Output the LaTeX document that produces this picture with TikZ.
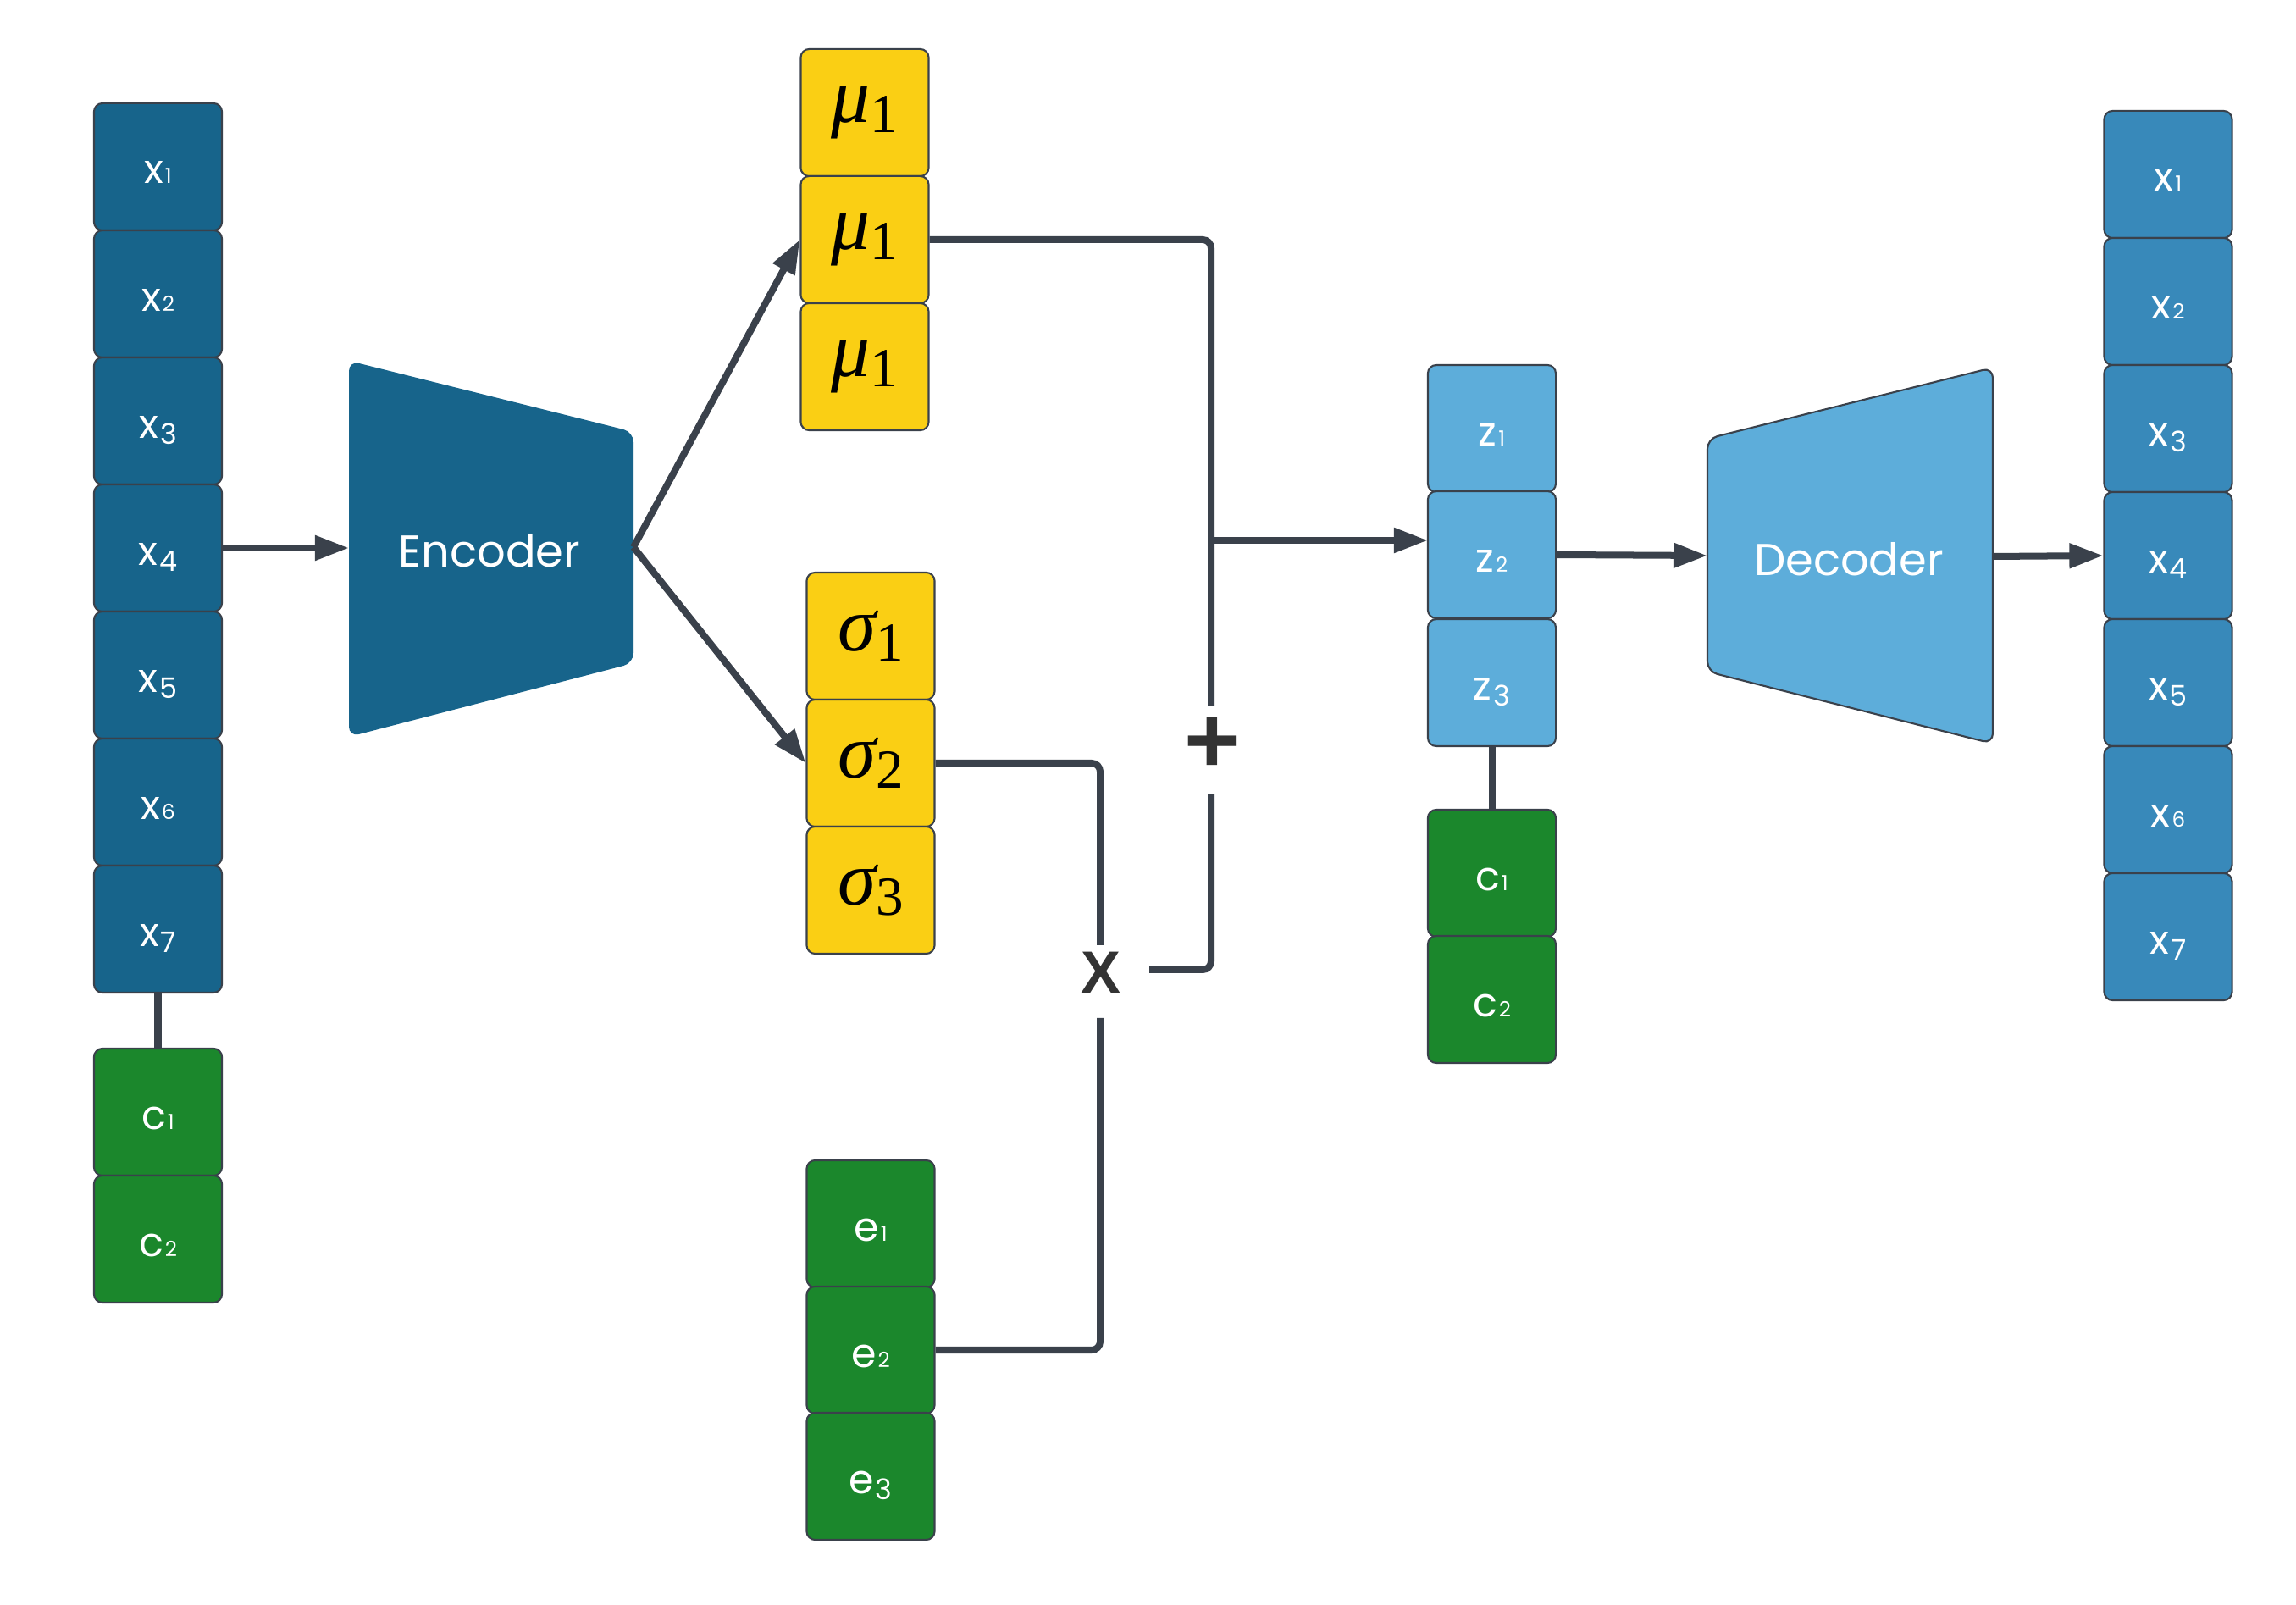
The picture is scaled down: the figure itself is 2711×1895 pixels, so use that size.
\documentclass[tikz,border=0pt]{standalone}
\usepackage{fontspec}
\setmainfont{Poppins}
\newfontfamily\tms{Liberation Serif}
\newfontfamily\arl{Liberation Sans}
\usetikzlibrary{arrows.meta}

\definecolor{xdark}{HTML}{17648B}
\definecolor{xout}{HTML}{3889BA}
\definecolor{zlight}{HTML}{5DADDA}
\definecolor{gold}{HTML}{FACF14}
\definecolor{leaf}{HTML}{1B872C}
\definecolor{wire}{HTML}{3A414B}
\definecolor{opcol}{HTML}{333333}

% subscript digits: small ones sit on the baseline, others drop a little
\newcommand\dsm[1]{\kern0.02cm{\fontsize{7}{7}\selectfont#1}}
\newcommand\dlo[1]{\kern0.02cm\raisebox{-0.07cm}{\fontsize{9.5}{9.5}\selectfont#1}}
% greek symbol with an upright index
\newcommand\gk[2]{{\tms\fontsize{26}{26}\selectfont\itshape #1\raisebox{-0.12cm}{\upshape\fontsize{18.5}{18.5}\selectfont #2}}}

\tikzset{
  cell/.style={draw=wire, line width=0.6pt, rounded corners=0.1cm,
    minimum width=1.51cm, minimum height=1.5cm, inner sep=0pt},
  lbl/.style={cell, text=white, font=\fontsize{13.5}{13.5}\selectfont,
    text height=0.4cm, text depth=0pt},
  xin/.style={lbl, fill=xdark},
  xrec/.style={lbl, fill=xout},
  zcell/.style={lbl, fill=zlight},
  ccell/.style={lbl, fill=leaf},
  gcell/.style={cell, fill=gold, text=black},
  wireline/.style={draw=wire, line width=0.08cm, rounded corners=0.1cm},
  arr/.style={wireline, -{Triangle[length=0.4cm,width=0.28cm]}},
  optext/.style={text=opcol, font=\arl\bfseries\fontsize{20}{20}\selectfont, inner sep=0pt},
  blocktext/.style={text=white, font=\fontsize{15}{15}\selectfont, inner sep=0pt}
}

\begin{document}
\begin{tikzpicture}[x=0.01cm,y=-0.01cm]
\useasboundingbox (0,0) rectangle (2711,1895);

% input vector and condition
\node[xin] (x1) at (186.5,197) {x\dsm{1}};
\node[xin] (x2) at (186.5,347) {x\dsm{2}};
\node[xin] (x3) at (186.5,497) {x\dlo{3}};
\node[xin] (x4) at (186.5,647) {x\dlo{4}};
\node[xin] (x5) at (186.5,797) {x\dlo{5}};
\node[xin] (x6) at (186.5,947) {x\dsm{6}};
\node[xin] (x7) at (186.5,1097) {x\dlo{7}};
\node[ccell] (c1) at (186.5,1313) {c\dsm{1}};
\node[ccell] (c2) at (186.5,1463) {c\dsm{2}};

% encoder block
\fill[xdark, rounded corners=0.12cm] (412,426) -- (748,510) -- (748,783) -- (412,870) -- cycle;
\node[blocktext] (enc) at (578,650) {Encoder};
\coordinate (encL) at (412,647);
\coordinate (encR) at (748,646);

% means and standard deviations
\node[gcell] (mu1) at (1021,133) {\gk{μ}{1}};
\node[gcell] (mu2) at (1021,283) {\gk{μ}{1}};
\node[gcell] (mu3) at (1021,433) {\gk{μ}{1}};
\node[gcell] (sg1) at (1028,751) {\gk{σ}{1}};
\node[gcell] (sg2) at (1028,901) {\gk{σ}{2}};
\node[gcell] (sg3) at (1028,1051) {\gk{σ}{3}};

% noise
\node[ccell] (e1) at (1028,1445) {e\dsm{1}};
\node[ccell] (e2) at (1028,1594) {e\dsm{2}};
\node[ccell] (e3) at (1028,1743) {e\dlo{3}};

% operators
\node[optext] (times) at (1300,1148) {X};
\node[optext, font=\arl\bfseries\fontsize{32}{32}\selectfont] (plus) at (1431,880) {+};
\coordinate (timesTop) at (1299,1116);
\coordinate (timesBot) at (1299,1202);
\coordinate (timesOut) at (1357,1145);
\coordinate (plusTop) at (1430,833);
\coordinate (plusBot) at (1430,938);
\coordinate (junc) at (1430,638);
\coordinate (zin) at (1686,638);

% latent vector and condition
\node[zcell] (z1) at (1761.5,506) {z\dsm{1}};
\node[zcell] (z2) at (1761.5,655) {z\dsm{2}};
\node[zcell] (z3) at (1761.5,806) {z\dlo{3}};
\node[ccell] (zc1) at (1761.5,1031) {c\dsm{1}};
\node[ccell] (zc2) at (1761.5,1180) {c\dsm{2}};

% decoder block
\filldraw[fill=zlight, draw=wire, line width=0.6pt, rounded corners=0.12cm]
  (2016,518) -- (2353,434) -- (2353,878) -- (2016,793) -- cycle;
\node[blocktext] (dec) at (2183,660) {Decoder};
\coordinate (decL) at (2016,656);
\coordinate (decR) at (2353,657);

% reconstruction
\node[xrec] (o1) at (2560,206) {x\dsm{1}};
\node[xrec] (o2) at (2560,356) {x\dsm{2}};
\node[xrec] (o3) at (2560,506) {x\dlo{3}};
\node[xrec] (o4) at (2560,656) {x\dlo{4}};
\node[xrec] (o5) at (2560,806) {x\dlo{5}};
\node[xrec] (o6) at (2560,956) {x\dsm{6}};
\node[xrec] (o7) at (2560,1106) {x\dlo{7}};

% connectors
\draw[wireline] (x7.south) -- (c1.north);
\draw[wireline] (z3.south) -- (zc1.north);
\draw[arr] (x4.east) -- (encL);
\draw[arr] (encR) -- (mu2.west);
\draw[arr] (encR) -- (sg2.west);
\draw[wireline] (mu2.east) -| (plusTop);
\draw[arr] (junc) -- (zin);
\draw[wireline] (plusBot) |- (timesOut);
\draw[wireline] (sg2.east) -| (timesTop);
\draw[wireline] (e2.east) -| (timesBot);
\draw[arr] (z2.east) -- (decL);
\draw[arr] (decR) -- (o4.west);
\end{tikzpicture}
\end{document}
